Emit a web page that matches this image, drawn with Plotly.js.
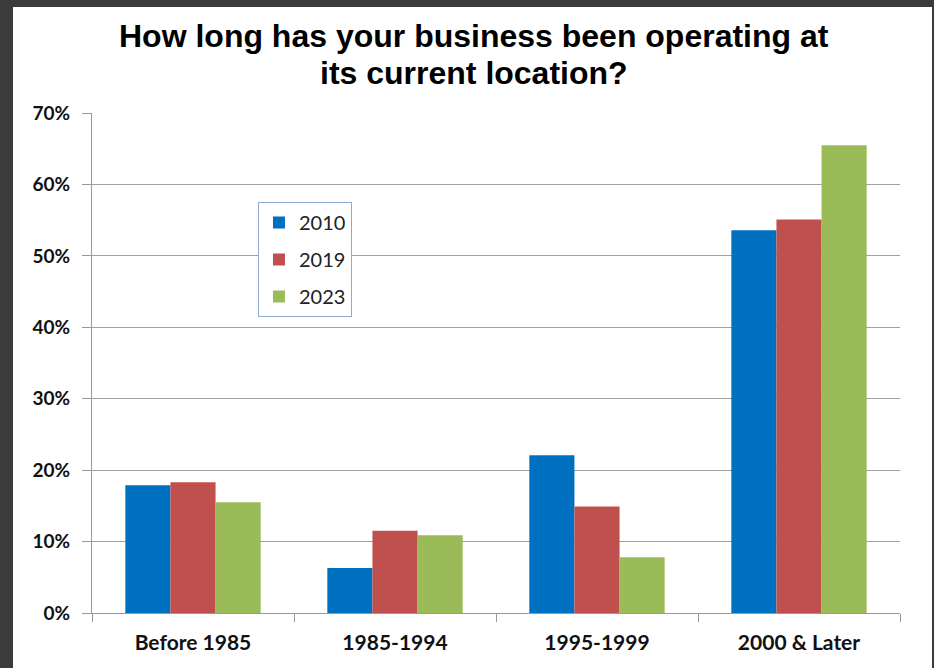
<!DOCTYPE html>
<html>
<head>
<meta charset="utf-8">
<script src="https://cdn.plot.ly/plotly-3.0.1.min.js"></script>
<style>
  html, body { margin: 0; padding: 0; width: 934px; height: 668px; background: #3b3b3b; overflow: hidden; }
  #chart { position: absolute; left: 13px; top: 7px; width: 919px; height: 661px; background: #ffffff; }
</style>
</head>
<body>
<div id="chart"></div>
<script>
const categories = ["Before 1985", "1985-1994", "1995-1999", "2000 & Later"];
const seriesNames = ["2010", "2019", "2023"];
const values2010 = [17.9, 6.3, 22.1, 53.6];
const values2019 = [18.3, 11.5, 14.9, 55.1];
const values2023 = [15.5, 10.9, 7.8, 65.5];
const colors = ["#0070C0", "#C0504D", "#9BBB59"];
const titleLine1 = "How long has your business been operating at";
const titleLine2 = "its current location?";

const allValues = [values2010, values2019, values2023];
const traces = allValues.map((vals, i) => ({
  type: "bar",
  name: seriesNames[i],
  x: categories,
  y: vals,
  legendgroup: "g" + i,
  marker: { color: colors[i], line: { width: 0 } },
  hoverinfo: "x+y+name"
}));

const layout = {
  width: 919,
  height: 661,
  margin: { l: 79, r: 32, t: 106, b: 55, pad: 0 },
  paper_bgcolor: "#ffffff",
  plot_bgcolor: "#ffffff",
  barmode: "group",
  bargap: 0.33,
  bargroupgap: 0,
  showlegend: true,
  legend: {
    x: 0.2054, y: 0.822, xanchor: "left", yanchor: "top",
    bordercolor: "#8EAADB", borderwidth: 1, bgcolor: "#ffffff",
    font: { family: "Lato, sans-serif", size: 20, color: "#222222" },
    traceorder: "grouped", tracegroupgap: 8,
    itemwidth: 30
  },
  xaxis: {
    type: "category",
    showgrid: false,
    showline: true, linecolor: "#999999", linewidth: 1,
    ticks: "outside", tickson: "boundaries", ticklen: 8, tickcolor: "#999999",
    ticklabelstandoff: 11,
    tickfont: { family: "Lato, sans-serif", size: 21, color: "#111111", weight: "bold" }
  },
  yaxis: {
    range: [0, 70],
    dtick: 10,
    ticksuffix: "%",
    showgrid: true, gridcolor: "#a0a0a0", gridwidth: 1,
    showline: true, linecolor: "#999999", linewidth: 1,
    zeroline: false,
    ticks: "outside", ticklen: 9, tickcolor: "#999999",
    ticklabelstandoff: 8,
    tickfont: { family: "Lato, sans-serif", size: 19, color: "#111111", weight: "bold" }
  },
  annotations: [
    { text: titleLine1, xref: "paper", yref: "paper", x: 0.473, y: 1.154, xanchor: "center", yanchor: "middle",
      showarrow: false, font: { family: "Liberation Sans, Arial, sans-serif", size: 32, color: "#000000", weight: "bold" } },
    { text: titleLine2, xref: "paper", yref: "paper", x: 0.473, y: 1.08, xanchor: "center", yanchor: "middle",
      showarrow: false, font: { family: "Liberation Sans, Arial, sans-serif", size: 32, color: "#000000", weight: "bold" } }
  ]
};

Plotly.newPlot("chart", traces, layout, { displayModeBar: false, staticPlot: true });
</script>
</body>
</html>
